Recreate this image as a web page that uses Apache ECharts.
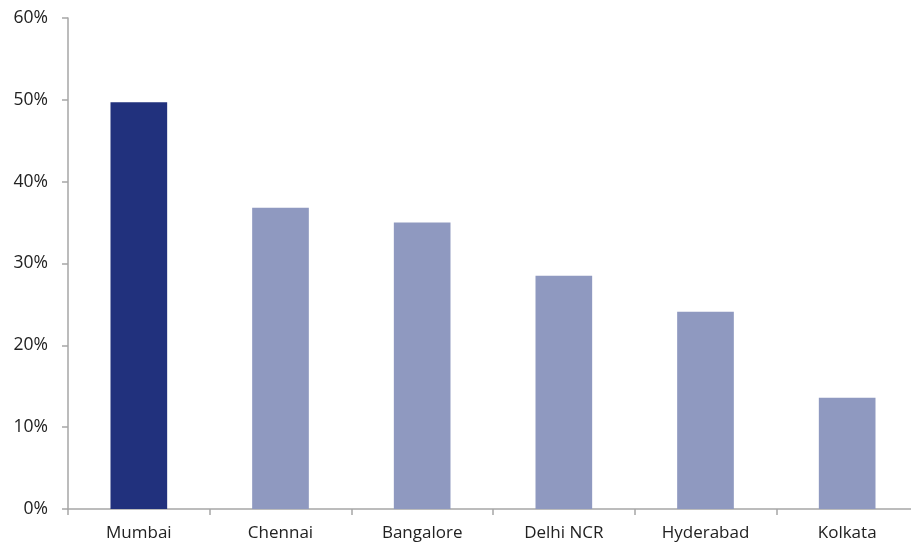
<!DOCTYPE html>
<html>
<head>
<meta charset="utf-8">
<style>
  html, body { margin: 0; padding: 0; background: #ffffff; overflow: hidden; }
  /* the plot runs slightly past the right edge of the window, so the last category ends off-screen */
  #chart { width: 918px; height: 546px; }
</style>
<script src="https://cdn.jsdelivr.net/npm/echarts@6/dist/echarts.min.js"></script>
</head>
<body>
<div id="chart"></div>
<script>
// City share values (percent)
const cities = ['Mumbai', 'Chennai', 'Bangalore', 'Delhi NCR', 'Hyderabad', 'Kolkata'];
const shares = [49.7, 36.8, 35.0, 28.5, 24.1, 13.6];
const highlightCity = 'Mumbai';

const darkBlue = '#21317D';
const lightBlue = '#8F99C0';
const axisGray = '#A6A6A6';
const textColor = '#222222';
const fontFamily = '"Open Sans", Lato, sans-serif';

const chart = echarts.init(document.getElementById('chart'));

chart.setOption({
  animation: false,
  grid: { left: 68, top: 18, right: 0, bottom: 37, containLabel: false },
  xAxis: {
    type: 'category',
    data: cities,
    boundaryGap: true,
    axisLine: { show: true, lineStyle: { color: axisGray, width: 1.5 } },
    axisTick: { show: true, alignWithLabel: false, length: 6, lineStyle: { color: axisGray, width: 1.5 } },
    axisLabel: { color: textColor, fontSize: 17, fontFamily: fontFamily, margin: 16 },
    splitLine: { show: false }
  },
  yAxis: {
    type: 'value',
    min: 0,
    max: 60,
    interval: 10,
    axisLine: { show: true, lineStyle: { color: axisGray, width: 1.5 } },
    axisTick: { show: true, length: 6, lineStyle: { color: axisGray, width: 1.5 } },
    axisLabel: { color: textColor, fontSize: 17.5, fontFamily: fontFamily, margin: 20, formatter: '{value}%' },
    splitLine: { show: false }
  },
  series: [{
    type: 'bar',
    barWidth: '40%',
    data: cities.map((c, i) => ({
      value: shares[i],
      itemStyle: { color: c === highlightCity ? darkBlue : lightBlue }
    }))
  }]
});
</script>
</body>
</html>
